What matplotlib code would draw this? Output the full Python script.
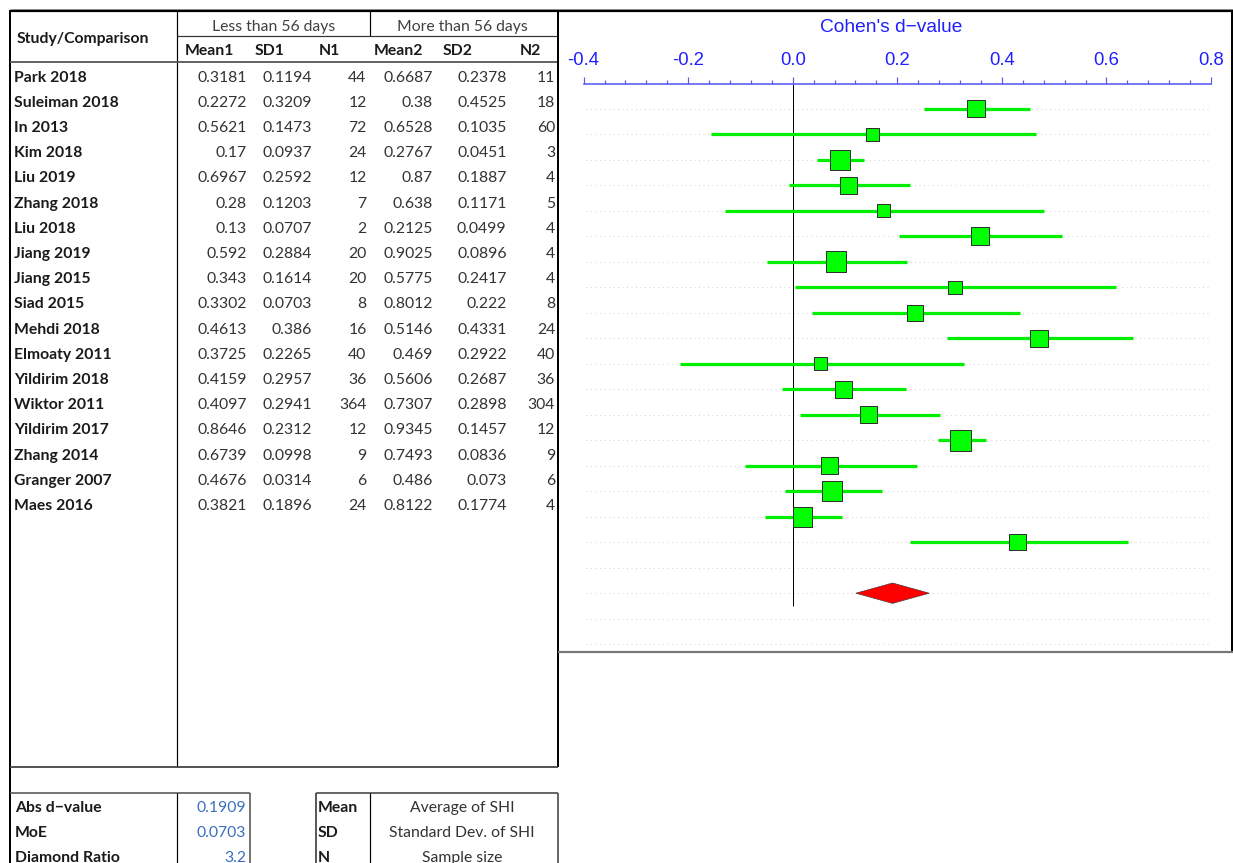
import matplotlib
matplotlib.use("Agg")
import matplotlib.pyplot as plt
import numpy as np

# ---------------- data ----------------
studies = ["Park 2018", "Suleiman 2018", "In 2013", "Kim 2018", "Liu 2019", "Zhang 2018",
           "Liu 2018", "Jiang 2019", "Jiang 2015", "Siad 2015", "Mehdi 2018", "Elmoaty 2011",
           "Yildirim 2018", "Wiktor 2011", "Yildirim 2017", "Zhang 2014", "Granger 2007", "Maes 2016"]
mean1 = [0.3181, 0.2272, 0.5621, 0.17, 0.6967, 0.28, 0.13, 0.592, 0.343, 0.3302, 0.4613,
         0.3725, 0.4159, 0.4097, 0.8646, 0.6739, 0.4676, 0.3821]
sd1 = [0.1194, 0.3209, 0.1473, 0.0937, 0.2592, 0.1203, 0.0707, 0.2884, 0.1614, 0.0703, 0.386,
       0.2265, 0.2957, 0.2941, 0.2312, 0.0998, 0.0314, 0.1896]
n1 = [44, 12, 72, 24, 12, 7, 2, 20, 20, 8, 16, 40, 36, 364, 12, 9, 6, 24]
mean2 = [0.6687, 0.38, 0.6528, 0.2767, 0.87, 0.638, 0.2125, 0.9025, 0.5775, 0.8012, 0.5146,
         0.469, 0.5606, 0.7307, 0.9345, 0.7493, 0.486, 0.8122]
sd2 = [0.2378, 0.4525, 0.1035, 0.0451, 0.1887, 0.1171, 0.0499, 0.0896, 0.2417, 0.222, 0.4331,
       0.2922, 0.2687, 0.2898, 0.1457, 0.0836, 0.073, 0.1774]
n2 = [11, 18, 60, 3, 4, 5, 4, 4, 4, 8, 24, 40, 36, 304, 12, 9, 6, 4]

# effect estimates and CI
effect = [0.3506, 0.1528, 0.0907, 0.1067, 0.1733, 0.358, 0.0825, 0.3105, 0.2345, 0.471,
          0.0533, 0.0965, 0.1447, 0.321, 0.0699, 0.0754, 0.0184, 0.4301]
ci_lo = [0.251, -0.156, 0.046, -0.007, -0.130, 0.203, -0.049, 0.005, 0.037, 0.295,
         -0.216, -0.020, 0.013, 0.277, -0.092, -0.015, -0.054, 0.224]
ci_hi = [0.453, 0.466, 0.137, 0.224, 0.481, 0.515, 0.218, 0.619, 0.435, 0.650,
         0.327, 0.216, 0.281, 0.369, 0.237, 0.170, 0.094, 0.641]
marker_px = [17.6, 13, 20, 17, 13.3, 17.6, 20.6, 13.3, 16.3, 17.2, 13.3, 17.2, 17.2, 20.6,
             17.2, 20.2, 19.7, 16.3]

diamond_lo, diamond_mid, diamond_hi = 0.1206, 0.1909, 0.2612
summary_labels = ["Abs d\u2212value", "MoE", "Diamond Ratio"]
summary_values = ["0.1909", "0.0703", "3.2"]
legend_keys = ["Mean", "SD", "N"]
legend_desc = ["Average of SHI", "Standard Dev. of SHI", "Sample size"]

xticks = [-0.4, -0.2, 0.0, 0.2, 0.4, 0.6, 0.8]
xtick_labels = ["-0.4", "-0.2", "0.0", "0.2", "0.4", "0.6", "0.8"]

# ---------------- figure ----------------
W, H = 1233, 863
fig = plt.figure(figsize=(W / 100, H / 100), dpi=100)
fig.patch.set_facecolor("white")

ax0 = fig.add_axes([0, 0, 1, 1])
ax0.set_xlim(0, W)
ax0.set_ylim(H, 0)
ax0.axis("off")

PX = 0.72  # points per pixel
TF = ["Lato", "DejaVu Sans"]
FS = 11.3
NAME_C = "#1a1a1a"
NUM_C = "#333333"
BLUE_V = "#3a6fc0"


def hline(y, x0, x1, lw=1.0, c="black"):
    ax0.plot([x0, x1], [y, y], color=c, lw=lw * PX, solid_capstyle="butt")


def vline(x, y0, y1, lw=1.0, c="black"):
    ax0.plot([x, x], [y0, y1], color=c, lw=lw * PX, solid_capstyle="butt")


# frame lines
hline(9, 10, W, 1.0, "#9a9a9a")
hline(11.5, 10, W, 2.2, "black")
vline(10, 10, H, 2.0)
vline(177, 11, 767, 1.2)
vline(369.5, 11, 36, 1.2)
hline(36, 177, 558, 1.2, "#333333")
hline(62, 10, 558, 1.8, "#555555")
vline(558.3, 10, 767, 2.0)
hline(767, 10, 558.3, 1.8, "#444444")
# plot panel
vline(1231.5, 10, 652, 2.0)
hline(652, 558, W, 2.2, "#777777")
# bottom boxes
hline(792.5, 10, 250, 1.6, "#555555")
vline(177, 792.5, H, 1.2)
vline(250, 792.5, H, 1.6, "#555555")
hline(792.5, 316, 558.3, 1.6, "#444444")
vline(316, 792.5, H, 1.6, "#333333")
vline(369.5, 792.5, H, 1.2)
vline(558.3, 792.5, H, 1.6, "#444444")

# header text
ax0.text(17, 37 + 5.5, "Study/Comparison", family=TF, fontsize=FS, fontweight="bold",
         color=NAME_C, ha="left", va="baseline")
ax0.text(273.5, 25 + 5.5, "Less than 56 days", family=TF, fontsize=FS, color="#404040",
         ha="center", va="baseline")
ax0.text(462.5, 25 + 5.5, "More than 56 days", family=TF, fontsize=FS, color="#404040",
         ha="center", va="baseline")
sub_heads = ["Mean1", "SD1", "N1", "Mean2", "SD2", "N2"]
sub_x = [184.5, 254.5, 319, 374, 443, 519.5]
for t, x in zip(sub_heads, sub_x):
    ax0.text(x, 49.5 + 5.5, t, family=TF, fontsize=FS, fontweight="bold", color=NAME_C,
             ha="left", va="baseline")

col_right = [246.5, 312, 366.5, 433, 506.5, 555]
for i, name in enumerate(studies):
    yb = 76 + 25.2 * i + 5.5
    ax0.text(14, yb, name, family=TF, fontsize=FS, fontweight="bold", color=NAME_C,
             ha="left", va="baseline")
    vals = [f"{mean1[i]:g}", f"{sd1[i]:g}", f"{n1[i]}", f"{mean2[i]:g}", f"{sd2[i]:g}", f"{n2[i]}"]
    for v, x in zip(vals, col_right):
        ax0.text(x, yb, v, family=TF, fontsize=FS, color=NUM_C, ha="right", va="baseline")

for i in range(3):
    yb = 806.7 + 25 * i + 5.5
    ax0.text(15, yb, summary_labels[i], family=TF, fontsize=FS, fontweight="bold",
             color=NAME_C, ha="left", va="baseline")
    ax0.text(246, yb, summary_values[i], family=TF, fontsize=FS, color=BLUE_V,
             ha="right", va="baseline")
    ax0.text(318, yb, legend_keys[i], family=TF, fontsize=FS, fontweight="bold",
             color=NAME_C, ha="left", va="baseline")
    ax0.text(462, yb, legend_desc[i], family=TF, fontsize=FS, color=NUM_C,
             ha="center", va="baseline")

# ---------------- forest plot ----------------
x_left_px, x_right_px = 583.6, 1211.0
y_top_px, y_bot_px = 84.0, 651.7
row0_px, row_step = 108.7, 25.5
ax = fig.add_axes([x_left_px / W, 1 - y_bot_px / H, (x_right_px - x_left_px) / W,
                   (y_bot_px - y_top_px) / H])
ax.set_xlim(-0.4, 0.8)
ax.set_ylim((y_bot_px - row0_px) / row_step, (y_top_px - row0_px) / row_step)
ax.patch.set_alpha(0)
for s in ["bottom", "left", "right"]:
    ax.spines[s].set_visible(False)
AXC = "#5a5af0"
ax.spines["top"].set_color(AXC)
ax.spines["top"].set_linewidth(1.6 * PX)
ax.xaxis.tick_top()
ax.set_xticks(xticks)
ax.set_xticklabels(xtick_labels)
ax.set_xticks(np.arange(-0.4, 0.8001, 0.04), minor=True)
ax.tick_params(axis="x", which="major", direction="out", length=5, width=1.2 * PX,
               color=AXC, labelcolor="#1f1fff", labelsize=13.3, pad=6)
ax.tick_params(axis="x", which="minor", direction="out", length=3, width=1.2 * PX, color=AXC)
for lab in ax.get_xticklabels():
    lab.set_family(["Liberation Sans", "DejaVu Sans"])
ax.set_yticks([])

n_rows = 22
rows = np.arange(n_rows)
ax.hlines(rows, -0.396, 0.8, colors="#d2d2d2", lw=1.0 * PX, linestyles=(0, (1, 3.5)), zorder=1)

zero_bottom = (605.7 - row0_px) / row_step
ax.vlines(0, (y_top_px - row0_px) / row_step, zero_bottom, colors="black", lw=1.0 * PX, zorder=2)

y_st = np.arange(len(studies))
ax.hlines(y_st, ci_lo, ci_hi, colors="#00ee00", lw=3.2 * PX, zorder=3)
ax.scatter(effect, y_st, s=(np.array(marker_px) * PX) ** 2, marker="s", c="#00ff00",
           edgecolors="#303030", linewidths=1.0 * PX, zorder=4)

yd = 19
hh = 0.4
ax.fill([diamond_lo, diamond_mid, diamond_hi, diamond_mid], [yd, yd - hh, yd, yd + hh],
        facecolor="#ff0000", edgecolor="#333333", lw=0.6 * PX, zorder=4)

ax0.text(891.5, 28, "Cohen's d\u2212value", family=["Liberation Sans", "DejaVu Sans"],
         fontsize=13.8, color="#1f1fff", ha="center", va="center")

fig.savefig("out.png", dpi=100, facecolor="white")
